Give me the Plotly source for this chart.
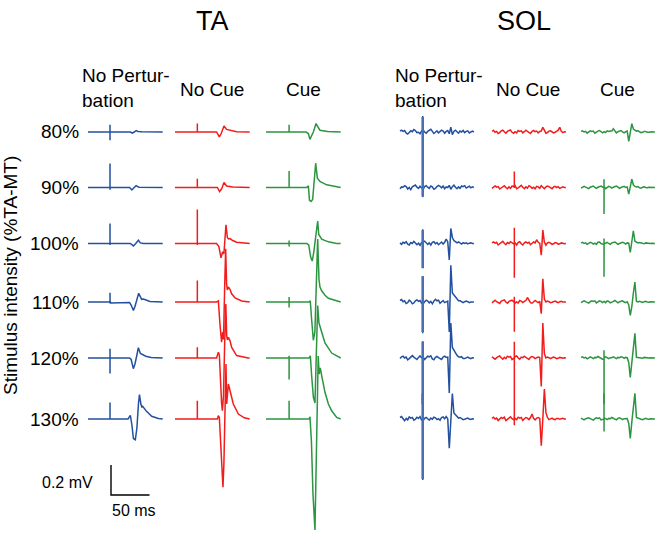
import plotly.graph_objects as go

# ------------------------------------------------------------------ data
ROW_LABELS = ["80%", "90%", "100%", "110%", "120%", "130%"]
MUSCLES = ["TA", "SOL"]
CONDITIONS = ["No Pertur-<br>bation", "No Cue", "Cue"]
Y_TITLE = "Stimulus intensity (%TA-MT)"
SCALE_MV = 0.2
SCALE_MS = 50

# ---- TA, No Perturbation (time ms, amplitude mV; breakpoints per row)
TA_NP_T = [
    [0, 55, 57.5, 60, 62.5, 65, 70, 97],
    [0, 54, 57, 60, 62.5, 66, 97],
    [0, 55, 59, 62, 65.5, 68, 72, 97],
    [0, 29, 30, 50, 54, 56, 59, 61, 63, 65.8, 69.7, 72, 80.5, 90, 97],
    [0, 54, 56, 58.9, 61, 63.5, 65.4, 68, 71.9, 75, 82, 97],
    [0, 52, 55, 57, 59, 61.5, 63.5, 65.5, 66.8, 68.8, 70, 71, 76, 82.7, 91.4, 97],
]
TA_NP_V = [
    [0, 0, -0.008, 0, 0.009, 0.004, 0.002, 0],
    [0, 0, -0.016, 0, 0.012, 0.002, 0],
    [0, 0, -0.016, 0, 0.022, 0.004, 0, 0],
    [0, 0, -0.006, -0.006, -0.004, -0.02, -0.056, -0.03, 0.01, 0.058, 0.018, 0.02, 0.004, 0, 0],
    [0, 0, -0.01, -0.071, -0.04, 0.02, 0.069, 0.03, 0.018, 0.012, 0.004, 0],
    [0, 0, 0.024, -0.04, -0.13, -0.138, -0.06, 0.1, 0.162, 0.096, 0.08, 0.084, 0.051, 0.018, 0.003, 0],
]
TA_NP_ART_T = 28.6
TA_NP_ART_UP = [0.049, 0.16, 0.133, 0.062, 0.062, 0.11]
TA_NP_ART_DN = [-0.055, -0.015, -0.01, -0.01, -0.104, -0.005]

# ---- TA, No Cue
TA_NC_T = [
    [0, 54, 57.6, 60, 63.6, 67, 72, 80, 97],
    [0, 55, 58, 61, 63.6, 67, 75, 97],
    [0, 54, 57, 59.7, 61.9, 63.5, 66.2, 68, 69.5, 71.5, 75, 80, 90, 97],
    [0, 54, 56.3, 58.4, 60.5, 62, 63, 64.5, 65.8, 67, 68, 69.3, 71.4, 73.6, 78, 86.6, 97],
    [0, 54, 56.3, 57.6, 58.4, 60.5, 61.5, 63, 64.5, 66, 67.1, 68, 69.3, 71.4, 73.6, 80, 95, 97],
    [0, 55, 56.3, 57.6, 59, 61, 62.3, 63.5, 64.9, 66.2, 67.1, 69.3, 71.4, 75.7, 82.3, 90, 97],
]
TA_NC_V = [
    [0, 0, -0.033, -0.01, 0.04, 0.017, 0.01, 0.002, 0],
    [0, 0, -0.027, -0.005, 0.033, 0.01, 0.003, 0],
    [0, 0, -0.02, -0.095, -0.055, -0.07, 0.125, 0.04, 0.03, 0.033, 0.02, 0.008, 0.002, 0],
    [0, 0, 0.007, -0.15, -0.267, -0.2, -0.25, 0.1, 0.355, 0.12, 0.08, 0.1, 0.085, 0.055, 0.027, 0.007, 0],
    [0, 0, 0.038, 0.02, -0.1, -0.3, -0.351, -0.25, 0.1, 0.36, 0.15, 0.12, 0.138, 0.116, 0.071, 0.016, 0, 0],
    [0, 0, 0.022, 0.01, -0.15, -0.35, -0.455, -0.3, 0.1, 0.367, 0.1, 0.233, 0.19, 0.1, 0.033, 0.008, 0],
]
TA_NC_ART_T = 29.0
TA_NC_ART_UP = [0.056, 0.058, 0.227, 0.144, 0.071, 0.122]
TA_NC_ART_DN = [-0.005, -0.005, -0.01, -0.005, -0.005, -0.005]

# ---- TA, Cue
TA_C_T = [
    [0, 52, 55, 57, 61.5, 65, 68, 70, 80, 97],
    [0, 53, 55, 56.5, 58.5, 60.6, 62.5, 64.5, 66.7, 70, 78.8, 91.8, 97],
    [0, 53, 55.5, 58, 60, 62, 64, 67.1, 68.5, 70, 72.3, 81, 91.8, 97],
    [0, 56, 57.5, 59.3, 61.5, 63.5, 65.5, 67.1, 68.8, 70.1, 72.3, 76.6, 81, 91.8, 97],
    [0, 56, 57.6, 59.3, 61.5, 63.6, 65.5, 67.1, 68.8, 72.3, 76.6, 85.3, 97],
    [0, 56, 57.1, 59, 61, 63.6, 65.3, 66.8, 67.8, 69, 70.5, 72.3, 76.6, 81, 85.3, 91.8, 97],
]
TA_C_V = [
    [0, 0, -0.01, -0.049, 0, 0.056, 0.025, 0.012, 0.004, 0],
    [0, 0, 0.011, -0.085, -0.093, -0.08, 0.02, 0.162, 0.062, 0.04, 0.018, 0.002, 0],
    [0, 0, -0.01, -0.09, -0.117, -0.06, 0.03, 0.15, 0.06, 0.045, 0.029, 0.011, 0, 0],
    [0, 0, 0.008, -0.12, -0.255, -0.2, 0.1, 0.42, 0.15, 0.1, 0.075, 0.045, 0.025, 0.005, 0],
    [0, 0, 0.015, -0.12, -0.26, -0.3, 0.05, 0.35, 0.233, 0.167, 0.1, 0.033, 0],
    [0, 0, 0.015, -0.15, -0.5, -0.74, -0.35, 0.2, 0.42, 0.3, 0.34, 0.289, 0.178, 0.1, 0.055, 0.011, 0],
]
TA_C_ART_T = 30.0
TA_C_ART_UP = [0.049, 0.11, 0.02, 0.033, 0.015, 0.122]
TA_C_ART_DN = [-0.005, -0.005, -0.02, -0.036, -0.144, -0.005]

# ---- SOL traces: amplitude (mV) sampled every 2 ms from 0 ms
SOL_DT = 2.0
SOL_NP_V = [
    [0.006, 0.012, 0.004, 0.010, -0.006, -0.014, -0.004, 0.008, 0.002, 0.016, 0.010, -0.004, -0.002, -0.012, 0.006, 0.014, 0.000, -0.008, 0.004, 0.012, 0.018, 0.004, -0.010, -0.002, 0.008, -0.006, 0.002, 0.012, 0.006, -0.008, 0.004, 0.010,
     -0.012, 0.033, -0.018, 0.004, 0.012, 0.002, -0.008, 0.006, 0.000, 0.010, -0.004, 0.004, 0.008, -0.006, 0.002, 0.006, 0.000],
    [-0.008, 0.004, 0.002, 0.012, 0.006, -0.010, 0.000, -0.014, 0.004, 0.010, 0.016, 0.002, -0.006, 0.008, -0.004, -0.012, 0.006, 0.012, 0.002, -0.006, 0.010, 0.004, -0.012, -0.006, 0.006, 0.014, 0.008, -0.002, 0.010, -0.008, 0.004, 0.000,
     0.014, -0.012, 0.006, 0.016, 0.002, -0.008, 0.004, -0.006, 0.010, 0.006, 0.012, -0.004, 0.002, 0.008, -0.002, 0.004, 0.000],
    [0.004, -0.006, 0.008, 0.002, 0.012, -0.004, -0.010, 0.006, 0.000, 0.014, 0.004, -0.008, 0.002, -0.012, 0.006, 0.010, 0.016, 0.002, -0.006, 0.004, -0.010, 0.008, 0.012, -0.002, 0.006, -0.008, 0.002, 0.010, -0.004, 0.008, 0.030, 0.010,
     -0.110, 0.100, 0.040, 0.020, 0.012, 0.004, 0.010, 0.002, -0.004, 0.006, 0.000, 0.004, -0.003, 0.002, 0.004, 0.000, 0.000],
    [0.010, 0.016, 0.002, 0.008, -0.010, -0.004, 0.012, 0.004, -0.012, -0.006, 0.008, 0.014, 0.004, 0.010, -0.008, -0.014, 0.002, 0.012, 0.006, -0.006, 0.004, -0.012, 0.006, 0.018, 0.008, 0.012, -0.008, 0.002, 0.010, -0.004, 0.002, 0.006,
     -0.200, 0.245, 0.060, 0.045, 0.030, 0.015, 0.008, 0.008, 0.002, -0.004, 0.002, 0.006, 0.002, -0.004, 0.000, 0.002, 0.000],
    [-0.004, 0.008, 0.012, 0.000, 0.006, -0.012, -0.004, 0.010, 0.016, 0.006, -0.002, -0.010, 0.004, 0.014, 0.002, 0.008, -0.010, 0.000, 0.012, 0.008, 0.014, -0.006, -0.012, 0.004, 0.010, 0.002, -0.006, -0.010, 0.006, 0.012, 0.004, 0.006,
     -0.233, 0.233, 0.070, 0.050, 0.035, 0.018, 0.008, 0.005, 0.009, -0.003, -0.004, 0.004, 0.006, 0.000, -0.004, 0.002, 0.000],
    [0.010, 0.016, 0.002, -0.012, 0.004, -0.006, 0.014, 0.006, 0.010, -0.008, -0.002, 0.012, 0.004, 0.016, -0.006, -0.012, 0.004, 0.010, 0.002, -0.008, 0.006, -0.002, 0.012, 0.008, -0.004, 0.002, -0.008, 0.010, 0.014, 0.002, 0.016, 0.002,
     -0.195, -0.040, 0.170, 0.040, 0.027, 0.012, 0.006, 0.010, 0.003, -0.004, -0.002, 0.004, 0.006, 0.000, -0.003, 0.002, 0.000],
]
SOL_NP_ART_T = 29.5
SOL_NP_ART_UP = [0.1, 0.173, 0.089, 0.173, 0.109, 0.17]
SOL_NP_ART_DN = [-0.2, -0.06, -0.165, -0.2, -0.31, -0.4]

SOL_NC_V = [
    [0.006, 0.010, -0.002, 0.004, -0.010, -0.004, 0.008, 0.012, 0.002, -0.008, 0.004, 0.010, 0.014, -0.002, -0.008, 0.002, -0.006, 0.010, 0.004, 0.008, -0.006, 0.002, 0.012, 0.004, -0.004, -0.010, 0.004, 0.010, 0.002, 0.006, -0.006, 0.004,
     0.006, 0.031, 0.012, -0.008, -0.004, 0.006, 0.008, 0.000, -0.006, -0.002, 0.006, 0.012, 0.031, 0.004, -0.004, 0.002, 0.000],
    [-0.006, 0.004, 0.010, 0.002, 0.006, -0.010, -0.002, 0.008, 0.012, 0.000, -0.008, 0.004, -0.006, 0.010, 0.006, 0.012, -0.008, -0.002, 0.008, 0.014, 0.002, -0.008, 0.004, -0.004, 0.012, 0.006, -0.006, 0.002, -0.008, 0.008, 0.004, -0.006,
     0.012, 0.002, -0.008, 0.004, 0.010, 0.006, -0.002, -0.008, 0.004, 0.008, 0.000, 0.006, -0.006, 0.002, 0.004, 0.000, 0.000],
    [0.004, 0.010, 0.002, 0.008, -0.010, -0.002, 0.010, 0.014, 0.002, -0.008, 0.006, 0.000, 0.012, 0.004, -0.006, 0.006, -0.010, 0.008, 0.012, -0.002, -0.010, 0.004, 0.010, 0.002, 0.008, -0.008, 0.002, 0.010, 0.004, 0.025, 0.008, 0.002,
     -0.078, 0.089, 0.010, -0.011, 0.004, 0.008, 0.002, -0.006, -0.002, 0.006, 0.004, -0.004, -0.002, 0.004, 0.002, -0.002, 0.000],
    [-0.006, 0.004, 0.012, 0.002, -0.004, -0.010, 0.006, 0.010, 0.014, 0.000, -0.008, 0.004, 0.008, 0.012, 0.002, -0.008, 0.000, -0.006, 0.010, 0.006, -0.004, 0.004, 0.010, 0.030, 0.008, -0.004, -0.008, 0.004, 0.010, 0.002, -0.004, 0.004,
     -0.078, 0.155, 0.020, 0.000, 0.006, 0.002, -0.004, -0.002, 0.004, 0.006, 0.000, -0.004, 0.002, 0.004, 0.000, -0.002, 0.000],
    [0.008, 0.002, -0.008, 0.002, 0.006, 0.014, 0.002, -0.008, 0.004, -0.004, 0.012, 0.006, 0.010, -0.010, -0.002, 0.010, 0.014, 0.000, -0.008, 0.006, 0.002, 0.012, 0.004, -0.006, -0.010, 0.004, 0.010, 0.006, -0.004, 0.002, 0.006, 0.003,
     -0.190, 0.233, 0.030, 0.000, 0.006, 0.002, -0.004, 0.002, 0.006, 0.002, -0.004, -0.002, 0.004, 0.002, -0.002, 0.002, 0.000],
    [0.004, 0.012, 0.000, 0.006, -0.010, -0.002, 0.010, 0.004, 0.012, -0.010, 0.000, 0.008, 0.014, 0.002, -0.008, 0.004, -0.004, 0.012, 0.006, 0.010, -0.010, 0.002, 0.010, 0.006, -0.004, 0.010, 0.033, 0.004, -0.006, 0.006, 0.010, 0.004,
     -0.178, 0.000, 0.200, 0.044, 0.010, -0.004, 0.004, 0.006, -0.002, -0.004, 0.004, 0.004, -0.002, 0.002, 0.004, 0.000, 0.000],
]
SOL_NC_ART_T = 29.0
SOL_NC_ART_UP = [0.0, 0.1, 0.111, 0.033, 0.111, 0.02]
SOL_NC_ART_DN = [0.0, -0.01, -0.222, -0.2, -0.4, -0.033]

SOL_C_V = [
    [0.004, 0.008, 0.000, 0.004, -0.008, -0.002, 0.008, 0.004, 0.006, -0.008, 0.002, 0.006, 0.010, 0.000, -0.006, 0.002, -0.004, 0.008, 0.004, 0.006, 0.006, 0.022, 0.006, -0.006, 0.002, 0.006, 0.010, 0.000, -0.006, 0.002, 0.006,
     -0.062, 0.000, 0.056, 0.020, 0.011, 0.006, 0.008, 0.002, -0.004, -0.002, 0.004, 0.004, -0.002, -0.002, 0.002, 0.002, 0.000, 0.000],
    [-0.004, 0.004, 0.008, 0.002, -0.004, -0.008, 0.002, 0.006, 0.010, 0.000, -0.006, 0.002, 0.004, 0.010, 0.002, 0.006, -0.008, 0.000, 0.008, 0.004, -0.004, 0.002, 0.004, 0.010, 0.002, -0.006, 0.000, 0.004, 0.008, 0.000, 0.004,
     -0.044, 0.000, 0.055, 0.018, 0.007, 0.004, 0.006, -0.002, -0.004, 0.002, 0.004, 0.000, -0.002, 0.002, 0.002, 0.000, 0.000, 0.000],
    [0.004, 0.008, 0.000, 0.004, -0.006, 0.002, 0.008, 0.004, -0.004, 0.002, -0.006, 0.008, 0.010, 0.000, -0.006, 0.004, 0.002, 0.008, 0.000, -0.006, 0.004, 0.006, 0.010, 0.002, -0.006, 0.000, 0.002, 0.008, 0.004, -0.004, 0.004, 0.002,
     -0.060, 0.000, 0.085, 0.015, 0.007, 0.004, 0.006, 0.002, -0.003, -0.002, 0.004, 0.002, -0.002, 0.000, 0.002, 0.000, 0.000],
    [-0.004, 0.002, 0.008, 0.002, -0.004, -0.008, 0.002, 0.008, 0.004, 0.008, -0.006, 0.000, 0.008, 0.004, -0.004, 0.004, -0.004, 0.008, 0.004, -0.006, 0.002, 0.004, 0.010, 0.002, -0.006, 0.002, 0.004, 0.008, 0.000, -0.004, 0.002, -0.020,
     -0.089, -0.030, 0.060, 0.133, 0.005, 0.000, 0.004, 0.002, -0.003, 0.002, 0.004, 0.000, -0.002, 0.002, 0.001, 0.000, 0.000],
    [0.004, 0.008, 0.000, 0.004, -0.006, 0.002, 0.008, 0.002, -0.004, 0.004, 0.002, 0.010, 0.004, -0.004, -0.008, 0.002, 0.008, 0.004, -0.004, 0.002, 0.002, 0.008, 0.004, -0.004, 0.004, 0.002, 0.008, 0.006, -0.002, 0.004, 0.002, -0.030,
     -0.129, -0.040, 0.070, 0.164, 0.005, 0.002, 0.004, -0.002, -0.002, 0.004, 0.002, -0.002, 0.000, 0.002, 0.001, 0.000, 0.000],
    [0.006, 0.002, -0.006, 0.002, 0.004, 0.008, 0.002, -0.004, -0.008, 0.002, 0.008, 0.004, 0.008, -0.006, 0.000, 0.008, 0.002, -0.004, 0.004, 0.002, 0.010, 0.004, -0.004, -0.006, 0.004, 0.008, 0.002, -0.004, 0.002, 0.004, 0.003, -0.030,
     -0.129, -0.020, 0.090, 0.171, 0.010, 0.005, 0.003, -0.002, -0.004, 0.002, 0.004, 0.000, -0.002, 0.002, 0.001, 0.000, 0.000],
]
SOL_C_ART_T = 29.9
SOL_C_ART_UP = [0.0, 0.053, 0.04, 0.0, 0.06, 0.17]
SOL_C_ART_DN = [0.0, -0.178, -0.215, 0.0, -0.3, -0.083]

# ------------------------------------------------------------------ layout constants
W, H = 660, 536
PX_PER_MS = 0.77      # horizontal scale (px per ms)
PX_PER_MV = 150.0     # vertical scale (px per mV)
COL_START_PX = [88, 175, 266, 400, 492, 581]
ROW_BASE_PX = [132, 187.5, 243.5, 302, 358, 419]
COLORS = ["#23509f", "#f21c1c", "#2b9540"]
SOL_ART_COLOR = "#4a6db3"
FONT = "Liberation Sans, Arial, sans-serif"


def sol_times(v):
    return [SOL_DT * i for i in range(len(v))]


def with_artifact(t, v, t_art, up, dn):
    xs, ys = [], []
    done = (up == 0 and dn == 0)
    for ti, vi in zip(t, v):
        if not done and ti > t_art:
            base = ys[-1] if ys else 0.0
            xs += [t_art] * 4
            ys += [base, base + up, base + dn, base]
            done = True
        xs.append(ti)
        ys.append(vi)
    return xs, ys


panels = [
    (TA_NP_T, TA_NP_V, TA_NP_ART_T, TA_NP_ART_UP, TA_NP_ART_DN),
    (TA_NC_T, TA_NC_V, TA_NC_ART_T, TA_NC_ART_UP, TA_NC_ART_DN),
    (TA_C_T, TA_C_V, TA_C_ART_T, TA_C_ART_UP, TA_C_ART_DN),
    ([sol_times(v) for v in SOL_NP_V], SOL_NP_V, SOL_NP_ART_T, SOL_NP_ART_UP, SOL_NP_ART_DN),
    ([sol_times(v) for v in SOL_NC_V], SOL_NC_V, SOL_NC_ART_T, SOL_NC_ART_UP, SOL_NC_ART_DN),
    ([sol_times(v) for v in SOL_C_V], SOL_C_V, SOL_C_ART_T, SOL_C_ART_UP, SOL_C_ART_DN),
]

fig = go.Figure()
for ci, (TT, VV, ta, ups, dns) in enumerate(panels):
    x_off = COL_START_PX[ci] / PX_PER_MS
    color = COLORS[ci % 3]
    for ri in range(len(ROW_LABELS)):
        xs, ys = with_artifact(TT[ri], VV[ri], ta, ups[ri], dns[ri])
        y_off = -ROW_BASE_PX[ri] / PX_PER_MV
        fig.add_trace(go.Scatter(
            x=[x_off + x for x in xs], y=[y_off + y for y in ys],
            mode="lines", line=dict(color=color, width=1.5),
            hoverinfo="skip", showlegend=False))

# SOL no-perturbation stimulus artefacts are drawn heavier in the original
x_off = COL_START_PX[3] / PX_PER_MS
for ri in range(len(ROW_LABELS)):
    y_off = -ROW_BASE_PX[ri] / PX_PER_MV
    fig.add_trace(go.Scatter(
        x=[x_off + SOL_NP_ART_T] * 2,
        y=[y_off + SOL_NP_ART_UP[ri], y_off + SOL_NP_ART_DN[ri]],
        mode="lines", line=dict(color=SOL_ART_COLOR, width=2.6),
        hoverinfo="skip", showlegend=False))

# scale bar
sx0 = 111 / PX_PER_MS
sy0 = -495 / PX_PER_MV
fig.add_trace(go.Scatter(
    x=[sx0, sx0, sx0 + SCALE_MS], y=[sy0 + SCALE_MV, sy0, sy0],
    mode="lines", line=dict(color="black", width=1.4),
    hoverinfo="skip", showlegend=False))

ann = []


def text(s, px, py, size, xanchor="center", angle=0, align="center"):
    ann.append(dict(text=s, x=px / W, y=1 - py / H, xref="paper", yref="paper",
                    showarrow=False, xanchor=xanchor, yanchor="middle",
                    textangle=angle, align=align,
                    font=dict(family=FONT, size=size, color="black")))


text(MUSCLES[0], 212, 21, 27)
text(MUSCLES[1], 524, 21, 27)
for base_x, nc_x, c_x in [(80, 212, 303), (393, 528, 617)]:
    text(CONDITIONS[0], base_x, 88, 19, xanchor="left", align="left")
    text(CONDITIONS[1], nc_x, 89, 19)
    text(CONDITIONS[2], c_x, 89, 19)
for ri, lab in enumerate(ROW_LABELS):
    text(lab, 81, ROW_BASE_PX[ri], 19, xanchor="right")
text(Y_TITLE, 10, 276, 19, angle=-90)
text(f"{SCALE_MV} mV", 95, 482, 16, xanchor="right")
text(f"{SCALE_MS} ms", 134, 510, 16)

fig.update_layout(
    width=W, height=H, margin=dict(l=0, r=0, t=0, b=0),
    paper_bgcolor="white", plot_bgcolor="white",
    xaxis=dict(range=[0, W / PX_PER_MS], visible=False, fixedrange=True),
    yaxis=dict(range=[-H / PX_PER_MV, 0], visible=False, fixedrange=True),
    annotations=ann,
)
fig.write_html("out.html", config={"displayModeBar": False},
               post_script="document.body.style.margin='0px';")
